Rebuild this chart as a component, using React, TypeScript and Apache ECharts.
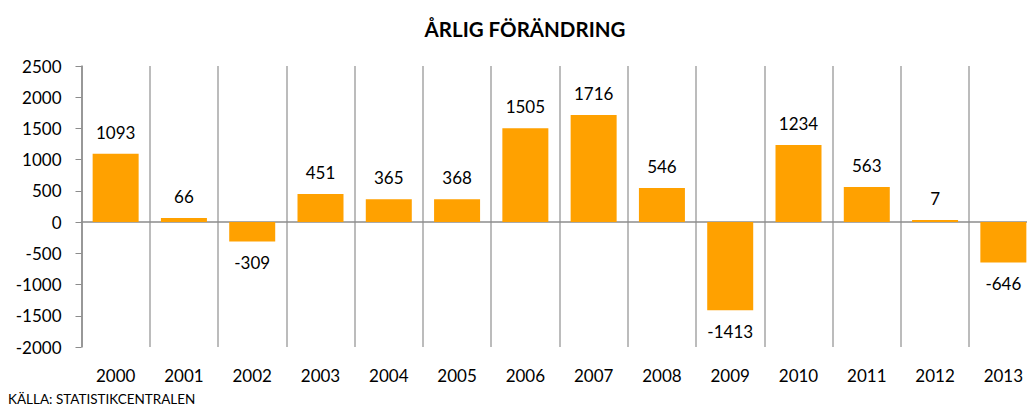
import React, { useEffect, useRef } from "react";
import * as echarts from "echarts";

const years = ["2000","2001","2002","2003","2004","2005","2006","2007","2008","2009","2010","2011","2012","2013"];
const changes = [1093, 66, -309, 451, 365, 368, 1505, 1716, 546, -1413, 1234, 563, 7, -646];
const titleText = "ÅRLIG FÖRÄNDRING";
const sourceText = "KÄLLA: STATISTIKCENTRALEN";

const FONT = "Lato, 'Open Sans', sans-serif";

export default function App() {
  const ref = useRef<HTMLDivElement>(null);
  useEffect(() => {
    if (!ref.current) return;
    const chart = echarts.init(ref.current, undefined, { renderer: "svg" });
    chart.setOption({
      animation: false,
      backgroundColor: "#ffffff",
      title: {
        text: titleText,
        left: 520,
        top: 13,
        textAlign: "center",
        textStyle: { fontFamily: FONT, fontWeight: "bold", fontSize: 20.5, color: "#000" },
      },
      graphic: [
        {
          type: "text",
          left: 8,
          top: 392,
          style: { text: sourceText, fontFamily: FONT, fontSize: 13.5, fill: "#000" },
        },
      ],
      grid: { left: 81.5, top: 66, width: 956, height: 281, containLabel: false },
      xAxis: [
        {
          type: "category",
          data: years,
          position: "bottom",
          axisLine: { show: false, onZero: false },
          axisTick: { show: false },
          axisLabel: { fontFamily: FONT, fontSize: 17, color: "#000", margin: 20, interval: 0 },
          splitLine: { show: true, interval: 0, lineStyle: { color: "#a6a6a6", width: 1.5 } },
        },
        {
          type: "category",
          data: years,
          position: "top",
          axisLine: { show: true, onZero: true, lineStyle: { color: "#8c8c8c", width: 1.5 } },
          axisTick: { show: false },
          axisLabel: { show: false },
          splitLine: { show: false },
        },
      ],
      yAxis: {
        type: "value",
        min: -2000,
        max: 2500,
        interval: 500,
        axisLine: { show: true, lineStyle: { color: "#8c8c8c", width: 1.5 } },
        axisTick: { show: true, length: 6, lineStyle: { color: "#8c8c8c" } },
        axisLabel: {
          fontFamily: FONT,
          fontSize: 17,
          color: "#000",
          margin: 20,
          formatter: (v: number) => String(v),
        },
        splitLine: { show: false },
      },
      series: [
        {
          type: "bar",
          xAxisIndex: 0,
          data: changes,
          barWidth: 46,
          barMinHeight: 2,
          itemStyle: { color: "#ffa100" },
          label: {
            show: true,
            position: "outside",
            distance: 13,
            fontFamily: FONT,
            fontSize: 17,
            color: "#000",
          },
        },
      ],
    });
    return () => chart.dispose();
  }, []);
  return (
    <div
      ref={ref}
      style={{ position: "fixed", left: 0, top: 0, width: 1040, height: 409 }}
    />
  );
}
